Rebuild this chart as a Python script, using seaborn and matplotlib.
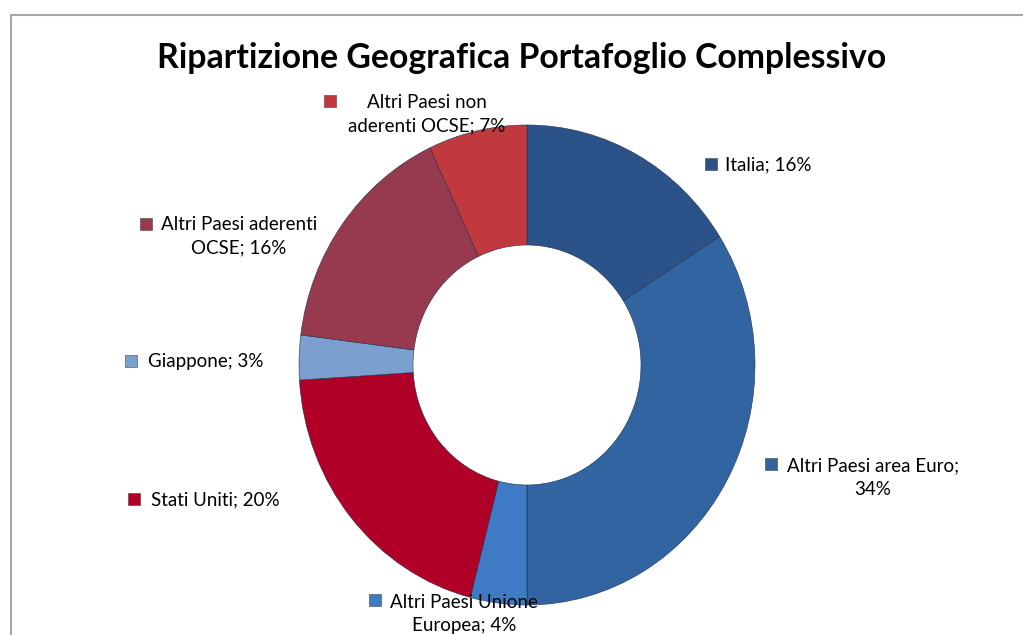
import textwrap
import matplotlib
matplotlib.use("Agg")
import matplotlib.pyplot as plt
from matplotlib.lines import Line2D
import seaborn as sns

# data
categorie = ['Italia', 'Altri Paesi area Euro', 'Altri Paesi Unione Europea',
             'Stati Uniti', 'Giappone', 'Altri Paesi aderenti OCSE',
             'Altri Paesi non aderenti OCSE']
quote = [16, 34, 4, 20, 3, 16, 7]
colori = ['#2b5389', '#3264a2', '#3f7ac4', '#b00028', '#7b9fcf', '#97394f', '#c0393f']

# label layout (pixels): wrap width, square x, first line y, text left x, block center y
wrap = [40, 22, 18, 40, 40, 20, 17]
sq_x = [711, 771, 375, 134, 131, 146, 330]
sq_y = [164, 464, 600, 499, 361, 224, 101]
tx_x = [725, 787, 390, 151, 148, 161, 348]
tx_y = [165, 478, 614, 500, 361, 236, 114]

W, H = 1023, 635
sns.set_theme(style="white")
plt.rcParams['font.family'] = ['Lato', 'DejaVu Sans']

fig = plt.figure(figsize=(W / 100, H / 100), dpi=100)
fig.patch.set_facecolor('white')

# chart frame
fig.lines.append(Line2D([11 / W, 1], [1 - 15 / H, 1 - 15 / H], transform=fig.transFigure,
                        color='#a6a6a6', lw=1.5))
fig.lines.append(Line2D([11 / W, 11 / W], [0, 1 - 15 / H], transform=fig.transFigure,
                        color='#a6a6a6', lw=1.5))

ax = fig.add_axes([299 / W, 30 / H, 456 / W, 480 / H])
wedges, _ = ax.pie(quote, colors=colori, startangle=90, counterclock=False,
                   radius=1, wedgeprops=dict(width=0.5, edgecolor='#20304a', linewidth=0.4))
ax.set_aspect('auto')
ax.set_xlim(-1, 1)
ax.set_ylim(-1, 1)
ax.axis('off')

fig.text(522 / W, 1 - 58 / H, 'Ripartizione Geografica Portafoglio Complessivo',
         ha='center', va='center', fontsize=24.3, fontweight='bold', color='black')

for i, (c, q) in enumerate(zip(categorie, quote)):
    testo = textwrap.fill(f"{c}; {q}%", width=wrap[i])
    fig.text(tx_x[i] / W, 1 - tx_y[i] / H, testo, ha='left', va='center',
             multialignment='center', fontsize=13.5, color='black', linespacing=1.45)
    fig.lines.append(Line2D([sq_x[i] / W], [1 - sq_y[i] / H], transform=fig.transFigure,
                            marker='s', markersize=8, color=colori[i],
                            markeredgecolor='#404040', markeredgewidth=0.4, linestyle='none'))

fig.savefig('out.png', dpi=100)
